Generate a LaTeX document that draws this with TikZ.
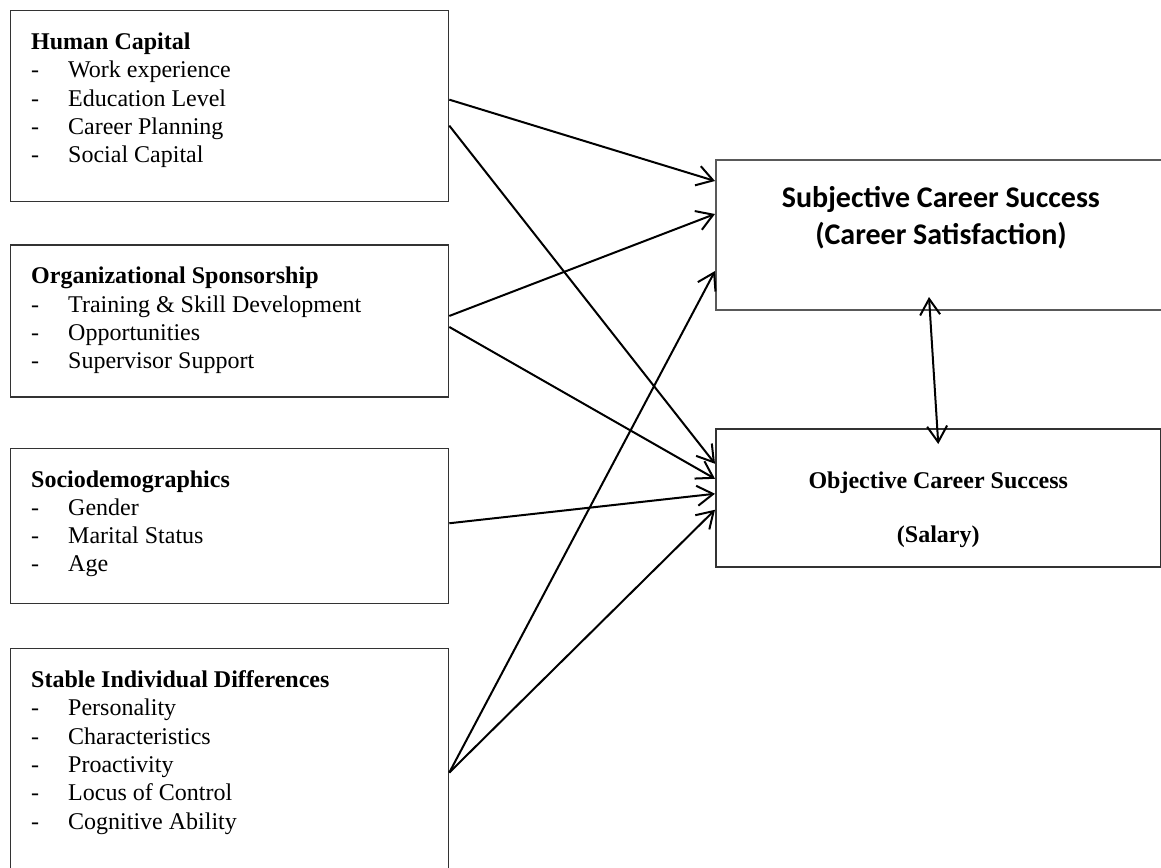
\documentclass[tikz,border=0pt]{standalone}
\usepackage{fontspec}
\setmainfont{Liberation Serif}
\newfontfamily\calibrifont{Carlito}
\usetikzlibrary{positioning, arrows.meta}
\tikzset{
    factor/.style={rectangle, draw=black!80, line width=1.3pt, minimum width=438pt, inner sep=0pt},
    factortext/.style={align=left, inner sep=0pt, font=\fontsize{24}{28.3}\selectfont},
    outcome/.style={rectangle, draw=black!80, line width=1.5pt, inner sep=0pt},
    arrow/.style={line width=2pt, -{Straight Barb[length=16pt, width=20pt]}},
    twoway/.style={line width=2pt, {Straight Barb[length=16pt, width=20pt]}-{Straight Barb[length=16pt, width=20pt]}}
}
\newcommand{\itemdash}{\makebox[37pt][l]{-}}

\begin{document}
\begin{tikzpicture}[x=1pt, y=-1pt]
        \useasboundingbox (0,0) rectangle (1161,867);
        % Nodes
        \node (hc) [factor, minimum height=191pt, anchor=north west] at (10,10) {};
        \node (os) [factor, minimum height=152pt, below=42pt of hc] {};
        \node (sd) [factor, minimum height=155pt, below=50pt of os] {};
        \node (sid) [factor, minimum height=230pt, below=44pt of sd] {};
        \node (subj) [outcome, draw=black!65, line width=2pt, minimum width=450pt, minimum height=150pt, anchor=north west] at (715,159) {};
        \node (obj) [outcome, minimum width=445pt, minimum height=138pt, anchor=north west] at (715,428) {};

        % Texts
        \node (hctext) [factortext, below right=22.6pt and 21pt of hc.north west] {\textbf{Human Capital}\\\itemdash Work experience\\\itemdash Education Level\\\itemdash Career Planning\\\itemdash Social Capital};
        \node (ostext) [factortext, below right=22.6pt and 21pt of os.north west] {\textbf{Organizational Sponsorship}\\\itemdash Training \& Skill Development\\\itemdash Opportunities\\\itemdash Supervisor Support};
        \node (sdtext) [factortext, below right=22.6pt and 21pt of sd.north west] {\textbf{Sociodemographics}\\\itemdash Gender\\\itemdash Marital Status\\\itemdash Age};
        \node (sidtext) [factortext, below right=22.6pt and 21pt of sid.north west] {\textbf{Stable Individual Differences}\\\itemdash Personality\\\itemdash Characteristics\\\itemdash Proactivity\\\itemdash Locus of Control\\\itemdash Cognitive Ability};
        \node (subjtext) [align=center, inner sep=0pt, font=\calibrifont\bfseries\fontsize{30}{37}\selectfont, below=27pt of subj.north] {Subjective Career Success\\(Career Satisfaction)};
        \node (objtext) [align=center, inner sep=0pt, font=\bfseries\fontsize{24}{27}\selectfont, below=43.5pt of obj.north] {Objective Career Success\\[27pt](Salary)};

        % Arrows
        \draw [arrow] ([yshift=6.5pt]hc.east) -- ([yshift=54pt]subj.west);
        \draw [arrow] ([yshift=-19.5pt]hc.east) -- ([yshift=34pt]obj.west);
        \draw [arrow] ([yshift=5pt]os.east) -- ([yshift=21pt]subj.west);
        \draw [arrow] ([yshift=-6pt]os.east) -- ([yshift=19pt]obj.west);
        \draw [arrow] ([yshift=2.5pt]sd.east) -- ([yshift=4pt]obj.west);
        \draw [arrow] ([yshift=-9pt]sid.east) -- ([yshift=-36pt]subj.west);
        \draw [arrow] ([yshift=-9pt]sid.east) -- ([yshift=-12pt]obj.west);
        \draw [twoway] ([xshift=-12pt, yshift=14pt]subj.south) -- ([yshift=-16pt]obj.north);
\end{tikzpicture}
\end{document}
